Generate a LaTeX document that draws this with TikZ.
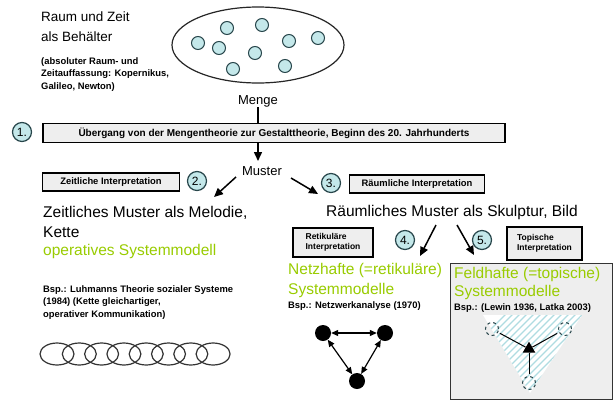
\documentclass[tikz,border=0pt]{standalone}
\usepackage{fontspec}
\setmainfont{Liberation Sans}
\usetikzlibrary{arrows.meta,shapes.geometric}
\definecolor{grn}{RGB}{153,204,0}
\definecolor{cy}{RGB}{196,232,234}
\definecolor{cyd}{RGB}{40,70,75}
\definecolor{boxg}{RGB}{238,238,238}
\definecolor{hatch}{RGB}{175,220,225}
\tikzset{
  bigtxt/.style={font=\fontsize{13.5}{16}\selectfont, inner sep=0pt},
  largetxt/.style={font=\fontsize{15.5}{18}\selectfont, inner sep=0pt},
  midtxt/.style={font=\fontsize{13}{14}\selectfont, inner sep=0pt},
  greentxt/.style={font=\fontsize{15.5}{18}\selectfont, inner sep=0pt, text=grn},
  smalltxt/.style={font=\fontsize{9.4}{12.5}\selectfont\bfseries, inner sep=0pt, align=left},
  ibox/.style={draw=black, line width=1.2pt, fill=boxg, font=\fontsize{9.4}{12}\selectfont\bfseries, inner sep=2pt},
  numc/.style={circle, draw=cyd, line width=1.2pt, fill=cy, minimum size=19pt, inner sep=0pt, font=\fontsize{12}{12}\selectfont},
  dot/.style={circle, draw=cyd, line width=1pt, fill=cy, minimum size=13pt, inner sep=0pt},
  arr/.style={-{Triangle[length=9pt,width=8pt]}, line width=1.5pt},
  netn/.style={circle, fill=black, minimum size=16pt, inner sep=0pt},
  dn/.style={circle, draw=cyd, dashed, line width=1pt, minimum size=13pt, inner sep=0pt},
  chain/.style={draw=black!80, line width=1.2pt}
}
\begin{document}
\begin{tikzpicture}[x=1pt,y=-1pt]
\useasboundingbox (0,0) rectangle (613,402);
\fill[white] (0,0) rectangle (613,402);

% Raum und Zeit
\node[bigtxt, anchor=west] (rz1) at (41,17) {Raum und Zeit};
\node[bigtxt, anchor=west] (rz2) at (41,37) {als Behälter};
\node[smalltxt, anchor=north west] (abs) at (41,57) {(absoluter Raum- und\\Zeitauffassung: Kopernikus,\\Galileo, Newton)};

% Menge ellipse
\node[draw=black!85, line width=1.2pt, ellipse, minimum width=172pt, minimum height=76pt] (ell) at (258,45) {};
\foreach \x/\y [count=\i] in {227/28,262/25,198/43,219/48,255/53,289/41,318/38,233/69,285/66}
  \node[dot] (d\i) at (\x,\y) {};
\node[midtxt] (menge) at (258,101) {Menge};

% Box 1
\node[ibox, minimum width=462pt, minimum height=19pt, font=\fontsize{10}{12}\selectfont\bfseries] (b1) at (274,133) {Übergang von der Mengentheorie zur Gestalttheorie, Beginn des 20. Jahrhunderts};
\node[numc] (n1) at (22,132) {1.};
\draw[line width=1.5pt] (menge.south) -- (menge.south |- b1.north);

\node[midtxt] (muster) at (262,171) {Muster};
\draw[arr] (b1.south -| menge) -- (258,161);

% left branch
\node[ibox, minimum width=137pt, minimum height=18pt] (bz) at (111,182) {Zeitliche Interpretation};
\node[numc] (n2) at (197,181) {2.};
\coordinate (lz) at (214,197);
\draw[arr] (236,177) -- (lz);

% right branch
\node[ibox, minimum width=135pt, minimum height=18pt] (br) at (417,184) {Räumliche Interpretation};
\node[numc] (n3) at (331,183) {3.};
\coordinate (rz) at (318,194);
\draw[arr] (291,178) -- (rz);

% Zeitliches Muster
\node[largetxt, anchor=west] (zm1) at (43,213) {Zeitliches Muster als Melodie,};
\node[largetxt, anchor=west] (zm2) at (43,232) {Kette};
\node[greentxt, anchor=west] (op) at (43,251) {operatives Systemmodell};
\node[smalltxt, anchor=north west] (bspl) at (43,285) {Bsp.: Luhmanns Theorie sozialer Systeme\\(1984) (Kette gleichartiger,\\operativer Kommunikation)};

% chain
\foreach \i in {0,...,7}
  \draw[chain] ({57+\i*22.3},354) ellipse (17pt and 11pt);

% Räumliches Muster
\node[largetxt] (rm) at (452,212) {Räumliches Muster als Skulptur, Bild};
\node[ibox, minimum width=80pt, minimum height=29pt, align=left, font=\fontsize{8.5}{10}\selectfont\bfseries] (bret) at (333,242.5) {Retikuläre\\Interpretation};
\node[numc] (n4) at (405,240) {4.};
\coordinate (a4s) at (436,225);
\coordinate (a4e) at (420,256);
\draw[arr] (a4s) -- (a4e);
\coordinate (a5s) at (457,225);
\coordinate (a5e) at (474,255);
\draw[arr] (a5s) -- (a5e);
\node[numc] (n5) at (482,240) {5.};
\node[ibox, minimum width=75pt, minimum height=33pt, align=left, font=\fontsize{8.5}{10}\selectfont\bfseries] (btop) at (544.5,243.5) {Topische\\Interpretation};

% Netz
\node[greentxt, anchor=west] (nh1) at (288,270) {Netzhafte (=retikuläre)};
\node[greentxt, anchor=west] (nh2) at (288,290) {Systemmodelle};
\node[smalltxt, anchor=west] (bspn) at (288,306) {Bsp.: Netzwerkanalyse (1970)};
\node[netn] (na) at (323,333) {};
\node[netn] (nb) at (385,333) {};
\node[netn] (nc) at (357,381) {};
\draw[{Triangle[length=7pt,width=6pt]}-{Triangle[length=7pt,width=6pt]}, line width=1.2pt] (na) -- (nb);
\draw[{Triangle[length=7pt,width=6pt]}-{Triangle[length=7pt,width=6pt]}, line width=1.2pt] (na) -- (nc);
\draw[{Triangle[length=7pt,width=6pt]}-{Triangle[length=7pt,width=6pt]}, line width=1.2pt] (nb) -- (nc);

% Feld box
\node[draw=black!80, line width=1.2pt, fill=boxg, minimum width=162pt, minimum height=136pt, anchor=north west, inner sep=0pt] (fbox) at (450,263) {};
\node[greentxt, anchor=west] (fh1) at (454,274) {Feldhafte (=topische)};
\node[greentxt, anchor=west] (fh2) at (454,292) {Systemmodelle};
\node[smalltxt, anchor=west] (bspf) at (454,308) {Bsp.: (Lewin 1936, Latka 2003)};
\begin{scope}
  \clip (483,315) -- (582,315) -- (530,393) -- cycle;
  \fill[white] (483,315) rectangle (582,393);
  \foreach \k in {0,...,30}
    \draw[hatch, line width=1.3pt] ({420+\k*7},400) -- ({520+\k*7},300);
\end{scope}
\node[isosceles triangle, isosceles triangle apex angle=60, shape border rotate=90, fill=black, minimum size=11pt, inner sep=0pt] (tc) at (529,349) {};
\node[dn] (t1) at (492,329) {};
\node[dn] (t2) at (565,329) {};
\node[dn] (t3) at (529,383) {};
\draw[line width=1pt, shorten >=2pt] (tc) -- (t1);
\draw[line width=1pt, shorten >=2pt] (tc) -- (t2);
\draw[line width=1pt, shorten >=2pt] (tc) -- (t3);
\end{tikzpicture}
\end{document}
